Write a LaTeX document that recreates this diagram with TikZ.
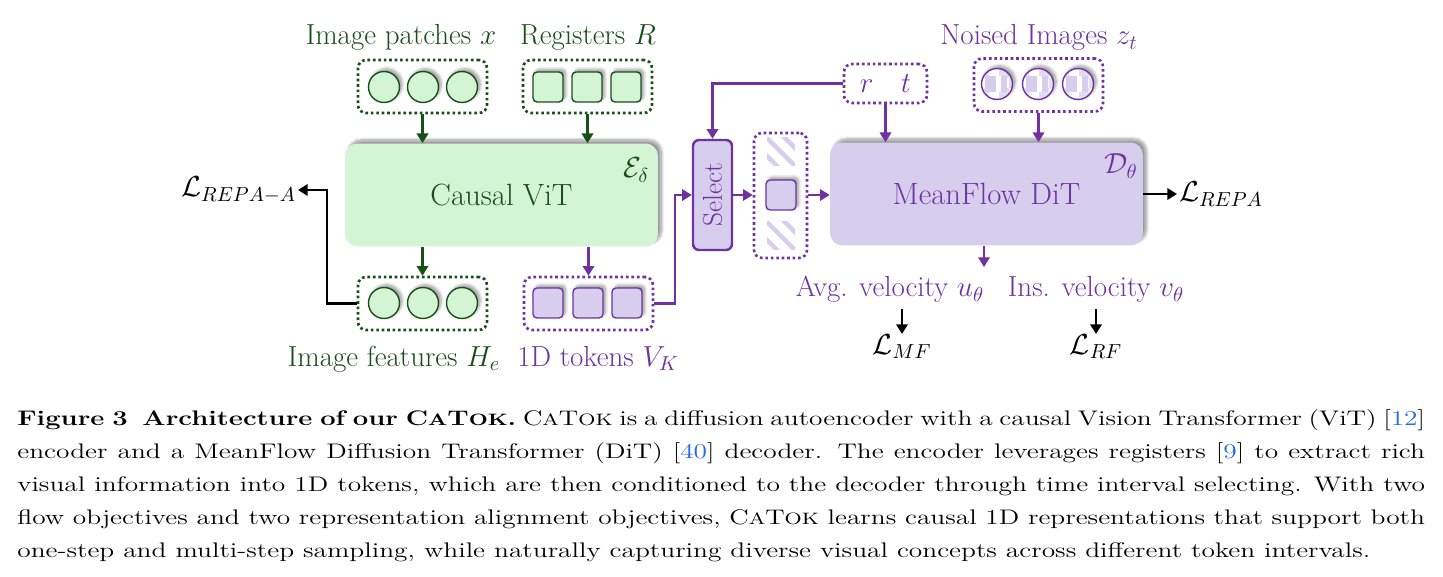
\documentclass[tikz,border=0pt]{standalone}
\usepackage{fix-cm}
\usepackage{amsmath}
\usepackage{graphicx}
\usepackage{fontspec}
\usepackage{tikz}
\usetikzlibrary{arrows.meta,shadows.blur,patterns}

\definecolor{encgreen}{RGB}{24,78,24}
\definecolor{encfill}{RGB}{211,245,213}
\definecolor{decpurple}{RGB}{112,50,160}
\definecolor{decfill}{RGB}{214,206,236}
\definecolor{citeblue}{RGB}{35,105,225}

\newfontfamily\capfont[FakeStretch=1.3]{Latin Modern Roman}
\newcommand{\catok}{C{\fontsize{9.4}{10}\selectfont A}T{\fontsize{9.4}{10}\selectfont OK}}

\tikzset{
    tok/.style={minimum size=0.62cm, inner sep=0pt, line width=0.8pt,
        blur shadow={shadow xshift=1.5pt, shadow yshift=1.5pt, shadow blur steps=6, shadow opacity=40}},
    circ/.style={tok, circle},
    sq/.style={tok, rectangle, rounded corners=0.08cm, minimum size=0.6cm},
    group/.style={draw, line width=1.5pt, dash pattern=on 1.5pt off 1.6pt, rounded corners=0.16cm,
        minimum width=2.58cm, minimum height=1.06cm, inner sep=0pt},
    block/.style={rounded corners=0.25cm, minimum width=6.26cm, minimum height=2.06cm,
        font=\fontsize{17.5}{20}\selectfont,
        blur shadow={shadow xshift=2pt, shadow yshift=2pt, shadow blur steps=8, shadow opacity=40}},
    selbox/.style={draw=decpurple, fill=decfill, text=decpurple, line width=1.4pt, rounded corners=0.12cm,
        minimum width=0.78cm, minimum height=2.2cm, inner sep=0pt, font=\fontsize{15.5}{18}\selectfont},
    garr/.style={encgreen, line width=1.2pt, -{Triangle[length=5.5pt,width=6.5pt]}},
    parr/.style={decpurple, line width=1.2pt, -{Triangle[length=5.5pt,width=6.5pt]}},
    karr/.style={black, line width=1.2pt, -{Triangle[length=5.5pt,width=6.5pt]}}
}

\begin{document}
\begin{tikzpicture}[x=0.02cm, y=-0.02cm, every node/.style={font=\fontsize{16.5}{19}\selectfont}]
    \useasboundingbox (0,0) rectangle (1443,577);

    % encoder
    \node[anchor=base, encgreen] (lpatch) at (401,45) {Image patches $x$};
    \node[anchor=base, encgreen] (lreg) at (588,45) {Registers $R$};
    \node[group, draw=encgreen] (patches) at (422.5,86.5) {};
    \foreach \i/\x in {1/384,2/423,3/462}
        \node[circ, draw=encgreen, fill=encfill] (p\i) at (\x,87) {};
    \node[group, draw=encgreen] (regs) at (587.5,86.5) {};
    \foreach \i/\x in {1/548,2/587,3/626}
        \node[sq, draw=encgreen, fill=encfill] (r\i) at (\x,87) {};

    \node[block, fill=encfill, text=encgreen] (vit) at (501.5,195) {Causal ViT};
    \node[encgreen] (enc) at (636,170) {$\mathcal{E}_\delta$};

    \node[group, draw=encgreen] (feat) at (422.5,303.5) {};
    \foreach \i/\x in {1/384,2/423,3/462}
        \node[circ, draw=encgreen, fill=encfill] (h\i) at (\x,303) {};
    \node[group, draw=decpurple] (toks) at (588.5,303.5) {};
    \foreach \i/\x in {1/548,2/588,3/627}
        \node[sq, draw=decpurple, fill=decfill] (v\i) at (\x,303) {};
    \node[anchor=base, encgreen] (lfeat) at (394,366) {Image features $H_e$};
    \node[anchor=base, decpurple] (ltok) at (598,366) {1D tokens $V_K$};
    \node[anchor=east, inner sep=1pt] (repaA) at (298,190) {$\mathcal{L}_{REPA-A}$};

    \draw[garr] (patches.south) -- (patches.south |- vit.north);
    \draw[garr] (regs.south) -- (regs.south |- vit.north);
    \draw[garr] (vit.south -| feat.north) -- (feat.north);
    \draw[parr] (vit.south -| toks.north) -- (toks.north);
    \draw[karr] (feat.west) -- ++(-30,0) |- (repaA.east);

    % select
    \node[selbox] (sel) at (712.5,195) {\rotatebox{90}{Select}};
    \node[group, draw=decpurple, minimum width=1.06cm, minimum height=2.5cm] (chosen) at (780.5,195.5) {};
    \foreach \y in {152,236} {
        \begin{scope}
            \clip (767,\y-14) rectangle (795,\y+14);
            \foreach \d in {-9,0,9}
                \draw[decfill, line width=2.6pt] (761+\d,\y-20-\d) -- (801+\d,\y+20-\d);
        \end{scope}
    }
    \node[sq, draw=decpurple, fill=decfill] (mid) at (781,195) {};
    \draw[parr] (toks.east) -- ++(21,0) |- (sel.west);

    % decoder
    \node[group, draw=decpurple, text=decpurple, minimum width=1.66cm, minimum height=0.78cm] (rt) at (885.5,83.5) {$r\hspace{0.55cm}t$};
    \node[anchor=base, decpurple] (lnoise) at (1039,45) {Noised Images $z_t$};
    \node[group, draw=decpurple] (noised) at (1038.5,85) {};
    \foreach \i/\x in {1/997,2/1038,3/1078} {
        \node[circ, draw=decpurple, preaction={fill=white}, pattern=checkerboard, pattern color=decfill!70] (z\i) at (\x,84) {};
        \fill[decfill] (\x-12,76) rectangle (\x+10,92);
        \fill[white] (\x-1,76) rectangle (\x+4,92);
    }
    \node[block, fill=decfill, text=decpurple] (dit) at (986.5,194) {MeanFlow DiT};
    \node[decpurple] (dec) at (1121,166) {$\mathcal{D}_\theta$};

    \draw[parr] (rt.west) -| (sel.north);
    \draw[parr] (rt.south) -- (rt.south |- dit.north);
    \draw[parr] (noised.south) -- (noised.south |- dit.north);
    \draw[parr] (sel.east) -- (sel.east -| chosen.west);
    \draw[parr] (chosen.east |- sel.east) -- (sel.east -| dit.west);

    % outputs
    \node[anchor=west, inner sep=1pt] (repa) at (1177,194) {$\mathcal{L}_{REPA}$};
    \draw[karr] (dit.east) -- (repa.west);
    \coordinate (uout) at (984,267);
    \draw[parr] (dit.south -| uout) -- (uout);
    \node[anchor=base, decpurple] (avg) at (890,297) {Avg. velocity $u_\theta$};
    \node[anchor=base, decpurple] (ins) at (1096,297) {Ins. velocity $v_\theta$};
    \node[anchor=north, inner sep=0pt] (mf) at (902,334) {$\mathcal{L}_{MF}$};
    \node[anchor=north, inner sep=0pt] (rf) at (1096,334) {$\mathcal{L}_{RF}$};
    \draw[karr] (avg.south -| mf.north) -- (mf.north);
    \draw[karr] (ins.south -| rf.north) -- (rf.north);

    % caption
    \node[anchor=base west, inner sep=0pt, text width=28.16cm, align=justify,
        font=\capfont\fontsize{12}{18.8}\selectfont] (cap) at (17,425) {%
        {\bfseries Figure 3\hspace{0.7em}Architecture of our \catok.} \catok{} is a diffusion autoencoder with a causal Vision Transformer (ViT) [\textcolor{citeblue}{12}]\linebreak
        encoder and a MeanFlow Diffusion Transformer (DiT) [\textcolor{citeblue}{40}] decoder. The encoder leverages registers [\textcolor{citeblue}{9}] to extract rich\linebreak
        visual information into 1D tokens, which are then conditioned to the decoder through time interval selecting. With two\linebreak
        flow objectives and two representation alignment objectives, \catok{} learns causal 1D representations that support both\linebreak
        one-step and multi-step sampling, while naturally capturing diverse visual concepts across different token intervals.};
\end{tikzpicture}
\end{document}
